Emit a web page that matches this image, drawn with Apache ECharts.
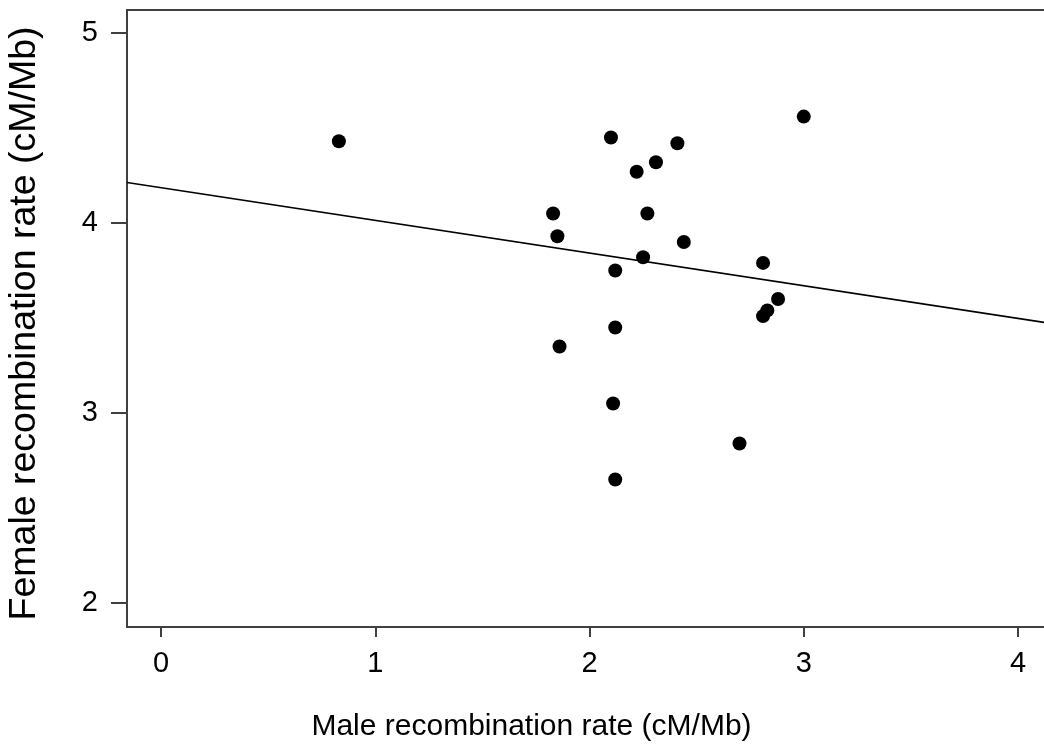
<!DOCTYPE html>
<html>
<head>
<meta charset="utf-8">
<script src="https://cdn.jsdelivr.net/npm/echarts@6/dist/echarts.min.js"></script>
<style>
  html, body { margin: 0; padding: 0; background: #fff; }
  #chart { width: 1044px; height: 749px; }
</style>
</head>
<body>
<div id="chart"></div>
<script>
// male vs female recombination rate (cM/Mb), one point per chromosome
const maleRate = [0.83, 3.00, 2.10, 2.41, 2.31, 2.22, 1.83, 2.27, 1.85, 2.44, 2.25,
  2.12, 2.81, 2.88, 2.83, 2.81, 2.12, 1.86, 2.11, 2.70, 2.12];
const femaleRate = [4.43, 4.56, 4.45, 4.42, 4.32, 4.27, 4.05, 4.05, 3.93, 3.90, 3.82,
  3.75, 3.79, 3.60, 3.54, 3.51, 3.45, 3.35, 3.05, 2.84, 2.65];

// fitted line y = a + b*x
const fitIntercept = 4.186;
const fitSlope = -0.172;

const xTicks = [0, 1, 2, 3, 4];
const yTicks = [2, 3, 4, 5];
const xRange = [-0.159, 4.168];
const yRange = [1.874, 5.121];

const points = maleRate.map((x, i) => [x, femaleRate[i]]);
const fitLine = xRange.map(x => [x, fitIntercept + fitSlope * x]);

const axisColor = "#404040";
const font = "Liberation Sans, Arial, sans-serif";

const chart = echarts.init(document.getElementById("chart"));

chart.setOption({
  animation: false,
  grid: {
    left: 127,
    top: 10,
    right: -10,
    bottom: 122,
    outerBoundsMode: "none",
    containLabel: false,
    show: true,
    borderColor: axisColor,
    borderWidth: 2
  },
  xAxis: {
    type: "value",
    min: xRange[0],
    max: xRange[1],
    name: "Male recombination rate (cM/Mb)",
    nameLocation: "middle",
    nameGap: 85,
    nameTextStyle: { fontSize: 30, color: "#000", fontFamily: font, padding: [0, 118, 0, 0] },
    axisLine: { onZero: false, lineStyle: { color: axisColor, width: 2 } },
    axisTick: { customValues: xTicks, length: 10, lineStyle: { color: axisColor, width: 2 } },
    axisLabel: { customValues: xTicks, fontSize: 29, color: "#000", fontFamily: font, margin: 22 },
    splitLine: { show: false }
  },
  yAxis: {
    type: "value",
    min: yRange[0],
    max: yRange[1],
    name: "Female recombination rate (cM/Mb)",
    nameLocation: "middle",
    nameGap: 83,
    nameTextStyle: { fontSize: 37.5, color: "#000", fontFamily: font, padding: [0, 10, 0, 0] },
    axisLine: { onZero: false, lineStyle: { color: axisColor, width: 2 } },
    axisTick: { customValues: yTicks, length: 16, lineStyle: { color: axisColor, width: 2 } },
    axisLabel: { customValues: yTicks, fontSize: 29, color: "#000", fontFamily: font, margin: 29 },
    splitLine: { show: false }
  },
  series: [
    {
      type: "line",
      data: fitLine,
      symbol: "none",
      silent: true,
      lineStyle: { color: "#000", width: 1.5 }
    },
    {
      type: "scatter",
      data: points,
      symbol: "circle",
      symbolSize: 14,
      itemStyle: { color: "#000", opacity: 1 }
    }
  ]
});
</script>
</body>
</html>
